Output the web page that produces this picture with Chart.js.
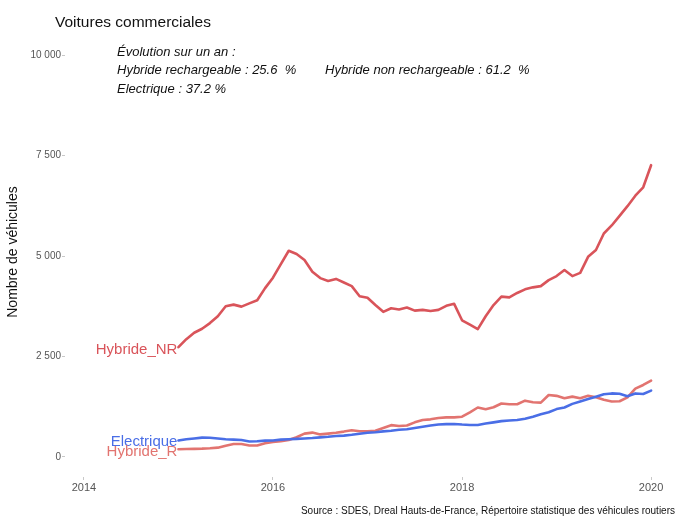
<!DOCTYPE html>
<html>
<head>
<meta charset="utf-8">
<script src="https://cdn.jsdelivr.net/npm/chart.js@4.4.0/dist/chart.umd.min.js"></script>
<style>
  body { margin: 0; background: #fff; }
  #wrap { width: 677px; height: 517px; }
</style>
</head>
<body>
<div id="wrap"><canvas id="vc-chart" width="677" height="517"></canvas></div>
<script>
const startYear = 2015;   // first month : janvier 2015, monthly values
const hybrideNR = [2730, 2930, 3090, 3190, 3330, 3500, 3750, 3790, 3740, 3820, 3900, 4200,
  4460, 4800, 5130, 5050, 4900, 4610, 4450, 4380, 4430, 4340, 4250, 4000,
  3960, 3780, 3610, 3700, 3670, 3720, 3640, 3660, 3630, 3660, 3760, 3810,
  3400, 3290, 3180, 3500, 3780, 3990, 3970, 4080, 4170, 4220, 4250, 4400,
  4500, 4650, 4500, 4580, 4980, 5150, 5560, 5760, 6000, 6240, 6500, 6710, 7260];
const electrique = [410, 440, 460, 480, 475, 460, 440, 430, 420, 385, 390, 405,
  410, 430, 440, 450, 460, 470, 485, 500, 520, 530, 550, 575,
  600, 615, 635, 650, 675, 690, 720, 750, 780, 805, 815, 820,
  805, 795, 795, 830, 860, 890, 905, 920, 950, 1000, 1060, 1110,
  1190, 1230, 1320, 1380, 1440, 1500, 1560, 1580, 1570, 1510, 1580, 1565, 1650];
const hybrideR = [190, 195, 200, 205, 215, 230, 280, 320, 320, 285, 285, 340,
  370, 390, 420, 490, 580, 605, 560, 580, 600, 630, 665, 640,
  635, 650, 720, 790, 770, 780, 860, 920, 935, 970, 985, 985,
  1000, 1110, 1230, 1185, 1235, 1330, 1310, 1310, 1400, 1360, 1350, 1540,
  1520, 1460, 1500, 1460, 1520, 1485, 1420, 1380, 1385, 1480, 1700, 1790, 1900];

const xTicks = [2014, 2016, 2018, 2020];
const yTicks = [0, 2500, 5000, 7500, 10000];
const yTickLabels = ['0', '2 500', '5 000', '7 500', '10 000'];

const seriesNames = ['Hybride_NR', 'Electrique', 'Hybride_R'];
const seriesColors = ['#d9545a', '#4a6ee6', '#e27470'];

const annotation = [
  ['Évolution sur un an :', ''],
  ['Hybride rechargeable : 25.6  %', 'Hybride non rechargeable : 61.2  %'],
  ['Electrique : 37.2 %', '']
];
const chartTitle = 'Voitures commerciales';
const yTitle = 'Nombre de véhicules';
const sourceText = 'Source : SDES, Dreal Hauts-de-France, Répertoire statistique des véhicules routiers';

const toPoints = (values) => values.map((v, i) => ({ x: startYear + i / 12, y: v }));

const textPlugin = {
  id: 'textPlugin',
  afterDraw(chart) {
    const ctx = chart.ctx;
    ctx.save();
    // labels at start of each line
    ctx.font = '15px "Liberation Sans", Arial, sans-serif';
    ctx.textAlign = 'right';
    ctx.textBaseline = 'middle';
    const offsets = [3, 1, 3];
    chart.data.datasets.forEach((ds, i) => {
      const p = chart.getDatasetMeta(i).data[0];
      ctx.fillStyle = seriesColors[i];
      ctx.fillText(seriesNames[i], p.x - 1, p.y + offsets[i]);
    });
    // title
    ctx.textAlign = 'left';
    ctx.fillStyle = '#111';
    ctx.font = '15.5px "Liberation Sans", Arial, sans-serif';
    ctx.fillText(chartTitle, 55, 23);
    // annotation
    ctx.font = 'italic 13px "Liberation Sans", Arial, sans-serif';
    annotation.forEach((row, r) => {
      ctx.fillText(row[0], 117, 52 + r * 18.5);
      if (row[1]) ctx.fillText(row[1], 325, 52 + r * 18.5);
    });
    // y title
    ctx.save();
    ctx.translate(13, 252);
    ctx.rotate(-Math.PI / 2);
    ctx.textAlign = 'center';
    ctx.font = '14px "Liberation Sans", Arial, sans-serif';
    ctx.fillText(yTitle, 0, 0);
    ctx.restore();
    // source
    ctx.textAlign = 'right';
    ctx.font = '10px "Liberation Sans", Arial, sans-serif';
    ctx.fillText(sourceText, 675, 511);
    ctx.restore();
  }
};

const ctx = document.getElementById('vc-chart').getContext('2d');
new Chart(ctx, {
  type: 'line',
  data: {
    datasets: [
      { label: seriesNames[0], data: toPoints(hybrideNR), borderColor: seriesColors[0] },
      { label: seriesNames[1], data: toPoints(electrique), borderColor: seriesColors[1] },
      { label: seriesNames[2], data: toPoints(hybrideR), borderColor: seriesColors[2] },
    ],
  },
  options: {
    responsive: false,
    animation: false,
    layout: { padding: { left: 0, right: 7, top: 35, bottom: 0 } },
    elements: {
      line: { borderWidth: 2.6, tension: 0, borderJoinStyle: 'round', borderCapStyle: 'round' },
      point: { radius: 0 },
    },
    plugins: {
      legend: { display: false },
      tooltip: { enabled: false },
    },
    scales: {
      x: {
        type: 'linear',
        min: 2013.8,
        max: 2020.2,
        afterBuildTicks: (scale) => { scale.ticks = xTicks.map(v => ({ value: v })); },
        afterFit: (scale) => { scale.height = 40; },
        border: { display: false },
        grid: { display: true, drawOnChartArea: false, drawTicks: true, tickLength: 3, color: '#c8c8c8' },
        ticks: {
          color: '#555',
          padding: 1,
          maxRotation: 0,
          font: { size: 11, family: '"Liberation Sans", Arial, sans-serif' },
          callback: (v) => String(v),
        },
      },
      y: {
        type: 'linear',
        min: -500,
        max: 10500,
        afterBuildTicks: (scale) => { scale.ticks = yTicks.map(v => ({ value: v })); },
        afterFit: (scale) => { scale.width = 65; },
        border: { display: false },
        grid: { display: true, drawOnChartArea: false, drawTicks: true, tickLength: 3, color: '#c8c8c8' },
        ticks: {
          color: '#555',
          padding: 1,
          font: { size: 10, family: '"Liberation Sans", Arial, sans-serif' },
          callback: (v) => yTickLabels[yTicks.indexOf(v)],
        },
      },
    },
  },
  plugins: [textPlugin],
});
</script>
</body>
</html>
